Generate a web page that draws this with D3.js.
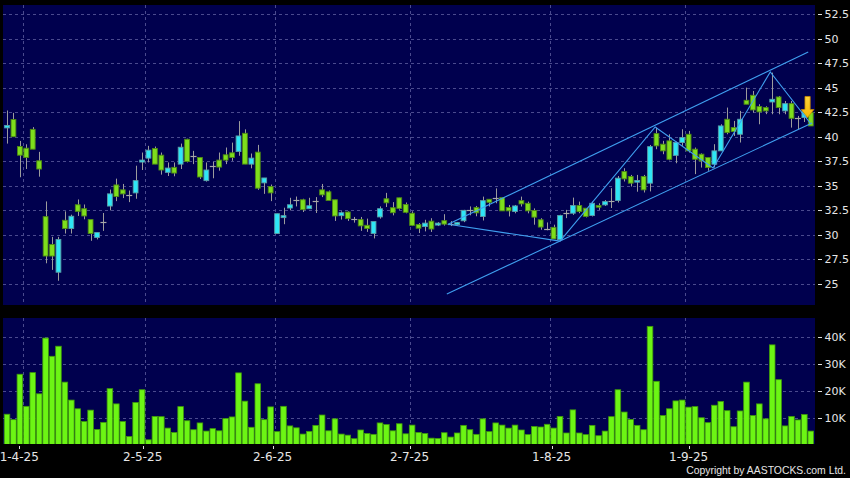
<!DOCTYPE html>
<html><head><meta charset="utf-8">
<script src="https://cdn.jsdelivr.net/npm/d3@7"></script>
<style>html,body{margin:0;padding:0;background:#000;}svg{display:block}</style>
</head><body><svg id="c" width="850" height="478"></svg>
<script>
// ---- data ----
const opens  = [40.9,41.76,39.0,38.83,40.75,37.55,31.86,29.03,26.2,31.49,30.65,33.07,32.67,31.56,29.74,31.32,32.94,35.09,34.59,34.02,34.28,37.42,37.82,38.8,38.12,36.37,36.88,37.21,39.74,38.06,37.89,35.53,36.98,37.62,38.16,38.36,38.49,40.35,37.21,38.43,35.3,34.92,30.14,31.76,32.74,33.51,33.58,32.67,33.44,34.59,34.39,33.58,31.96,32.33,31.63,31.56,30.98,30.14,31.83,33.68,32.77,33.78,33.1,32.21,31.05,30.85,31.4,31.0,31.45,31.15,31.05,31.44,32.55,32.8,31.88,33.63,33.8,33.8,32.79,32.38,33.49,33.22,32.48,31.54,30.6,30.77,29.52,32.28,32.21,32.99,32.72,31.98,33.0,33.06,33.48,33.51,36.45,35.95,35.37,35.95,35.27,40.32,39.24,39.58,38.1,39.41,40.25,38.73,38.22,37.88,37.2,38.56,41.78,40.93,40.25,43.71,44.22,43.07,42.97,43.54,44.05,42.63,43.37,41.88,41.95,42.46];
const highs  = [42.67,42.43,39.57,39.23,40.98,38.46,33.41,29.8,29.8,32.4,32.06,33.61,33.1,31.56,30.24,32.23,34.62,35.73,35.19,34.52,37.05,38.39,39.07,39.0,38.39,37.38,37.38,39.3,39.8,38.56,37.89,37.38,37.45,38.39,38.9,39.4,41.59,40.75,38.29,39.17,35.8,35.13,32.16,32.77,33.78,33.91,33.68,33.78,33.85,35.19,34.52,33.58,32.4,32.4,31.83,31.83,31.66,31.36,32.9,34.28,33.34,33.78,33.3,32.4,31.2,31.54,31.7,31.3,32.11,31.4,31.3,32.55,32.9,32.95,33.9,33.63,34.74,33.8,33.05,33.05,33.9,33.39,32.7,31.7,31.27,31.04,32.05,32.55,33.8,33.39,32.72,33.39,33.22,33.55,34.76,36.0,36.79,36.11,36.11,36.11,39.16,40.93,39.58,40.25,39.5,40.76,40.59,38.9,38.3,37.9,39.24,41.27,42.97,41.61,42.63,45.0,44.66,43.31,43.1,46.53,44.15,43.64,43.64,42.12,42.8,42.6];
const lows   = [39.3,40.0,35.87,36.71,38.73,35.93,27.11,26.44,25.33,30.14,30.14,31.93,31.59,29.4,29.54,30.41,32.5,33.44,33.75,33.34,33.68,36.61,37.38,37.21,36.14,36.0,35.97,36.71,37.38,37.21,35.7,35.43,35.77,36.54,37.21,37.55,38.06,37.21,36.78,34.59,34.18,33.44,30.14,31.09,32.5,32.9,32.33,32.67,32.23,33.85,33.51,31.42,31.56,31.42,31.25,30.41,30.31,29.64,31.66,32.84,31.99,32.57,32.2,30.9,30.19,30.36,30.3,30.9,30.95,30.9,30.95,31.3,32.0,31.9,31.47,32.89,33.22,32.45,31.88,32.2,32.89,32.2,31.04,30.53,30.47,29.59,29.35,31.71,32.04,32.21,31.78,31.88,32.55,32.95,32.74,33.3,35.44,34.93,34.4,34.32,34.43,38.73,38.22,37.6,37.3,39.07,38.39,36.19,36.86,36.53,36.86,38.56,40.25,40.08,39.41,43.31,42.46,41.27,42.3,42.29,42.29,42.29,40.93,40.76,41.5,41.1];
const closes = [41.15,40.0,38.12,37.89,38.73,36.71,27.85,27.85,29.54,30.65,31.9,32.4,31.93,30.14,30.24,31.32,34.18,33.91,34.18,34.02,35.53,37.62,38.63,37.21,36.61,36.81,36.3,38.93,37.48,38.06,35.9,36.61,36.98,36.91,37.62,37.89,40.08,37.21,37.82,34.76,35.8,34.28,32.16,31.96,33.07,33.51,32.57,32.97,33.44,34.08,33.51,31.93,32.26,31.66,31.63,30.92,30.65,31.36,32.67,33.27,32.26,32.7,32.3,30.97,30.68,31.2,30.6,31.2,31.1,31.15,31.25,32.5,32.55,32.25,33.49,33.32,33.8,32.45,32.45,32.95,33.16,32.45,31.81,30.8,30.6,29.59,31.98,32.28,32.99,32.38,31.88,33.22,32.82,33.39,33.48,35.78,35.71,35.27,35.54,34.59,38.99,39.07,38.56,37.7,39.41,39.92,38.56,37.71,37.54,36.86,38.56,41.1,40.42,40.53,41.78,43.31,42.73,42.53,42.63,43.81,42.97,43.37,41.88,41.88,42.63,41.1];
const volumesK = [11.5,9.5,26.2,14.4,26.8,19,39.5,32.8,36.5,23.3,16.7,13.5,8.8,13,5.9,8.5,20.9,15.3,8.8,3.3,15.8,20.5,2.1,10.7,10.6,6.4,4.8,14.3,9.1,5.8,8.3,5.3,6.2,5.4,
  9.9,10.5,26.7,16.3,6.7,22.7,9.5,14.2,5.1,14.4,7.2,6.5,4.2,5.2,7.4,11.2,5.4,9.8,4.2,3.8,2.5,5.7,4.4,4.1,8.3,7.7,5.4,8.0,4.3,7.5,4.8,4.4,2.7,
  2.6,4.7,3.1,4.6,7.4,5.8,4.1,9.8,5.1,8.3,7.5,6.4,7.5,5.7,4.0,7.0,6.8,7.8,6.4,10.7,4.6,13.1,4.6,4.0,7.4,3.6,5.3,10.6,20.5,12.3,9.6,7.4,
  5.8,43.8,23.6,11,13.5,16.4,16.7,14.1,14.3,10.2,8.4,14.8,16.2,12.8,6.9,12.7,23.3,11,15.3,9.8,37,24.2,7.2,10.7,9.4,11.4,5.3];
const priceTicks = [25,27.5,30,32.5,35,37.5,40,42.5,45,47.5,50,52.5];
const volTicks = [10,20,30,40];
const dateLabels = ["1-4-25","2-5-25","2-6-25","2-7-25","1-8-25","1-9-25"];
const dateLabelIdx = [1.9,21.1,41.3,62.6,84.7,106];
const dateGridIdx  = [2.5,21.5,41.6,62.6,84.4,105.5];
// trend lines as [index, price] pairs
const trendLines = [
  [[68.6,31.08],[124.6,48.63]],
  [[68.4,23.98],[125.2,41.4]],
  [[68.6,31.08],[86,29.37]],
  [[86,29.37],[100.8,40.99],[109.8,36.81],[118.7,46.6],[124.9,41.4]]
];
const arrowSpec = {idx:124.5, top:44.1, tip:41.95};

// ---- drawing ----
const svg = d3.select("#c");
const N = closes.length;
const x = d3.scaleLinear().domain([-0.5, N-0.5]).range([3.8, 814]);
const y = d3.scaleLinear().domain([25,52.5]).range([284,14]);
const yv = d3.scaleLinear().domain([0,40]).range([445.5,336.7]);
const P = {x:3, y:5, w:812, h:300};
const V = {x:3, y:318, w:812, h:126};

svg.append("rect").attr("width",850).attr("height",478).attr("fill","#000");
const defs = svg.append("defs");
defs.append("clipPath").attr("id","cp").append("rect").attr("x",P.x).attr("y",P.y).attr("width",P.w).attr("height",P.h);
defs.append("clipPath").attr("id","cv").append("rect").attr("x",V.x).attr("y",V.y).attr("width",V.w).attr("height",V.h);
const grad = defs.append("linearGradient").attr("id","ag").attr("x1",0).attr("y1",0).attr("x2",0).attr("y2",1);
grad.append("stop").attr("offset","0%").attr("stop-color","#ffd23a");
grad.append("stop").attr("offset","100%").attr("stop-color","#f5b800");

const NAVY = "#00004e", GRID = "#4a4a8e";
svg.append("rect").attr("x",P.x).attr("y",P.y).attr("width",P.w).attr("height",P.h).attr("fill",NAVY);
svg.append("rect").attr("x",V.x).attr("y",V.y).attr("width",V.w).attr("height",V.h).attr("fill",NAVY);

const crisp = v => Math.round(v)+0.5;
// price grid
const gp = svg.append("g").attr("clip-path","url(#cp)");
gp.selectAll("line.h").data(priceTicks).join("line")
  .attr("x1",P.x).attr("x2",P.x+P.w).attr("y1",d=>crisp(y(d))).attr("y2",d=>crisp(y(d)))
  .attr("stroke",GRID).attr("stroke-dasharray","3,3");
gp.selectAll("line.v").data(dateGridIdx).join("line")
  .attr("y1",P.y).attr("y2",P.y+P.h).attr("x1",d=>crisp(x(d))).attr("x2",d=>crisp(x(d)))
  .attr("stroke",GRID).attr("stroke-dasharray","3,3");
// volume grid
const gv = svg.append("g").attr("clip-path","url(#cv)");
gv.selectAll("line.h").data(volTicks).join("line")
  .attr("x1",V.x).attr("x2",V.x+V.w).attr("y1",d=>crisp(yv(d))).attr("y2",d=>crisp(yv(d)))
  .attr("stroke",GRID).attr("stroke-dasharray","3,3");
gv.selectAll("line.v").data(dateGridIdx).join("line")
  .attr("y1",V.y).attr("y2",V.y+V.h).attr("x1",d=>crisp(x(d))).attr("x2",d=>crisp(x(d)))
  .attr("stroke",GRID).attr("stroke-dasharray","3,3");

// candles
const candles = d3.range(N).map(i=>({i,o:opens[i],h:highs[i],l:lows[i],c:closes[i]}));
const cg = svg.append("g").attr("clip-path","url(#cp)");
const bw = 4.8;
cg.selectAll("line.w").data(candles).join("line")
  .attr("x1",d=>crisp(x(d.i))).attr("x2",d=>crisp(x(d.i)))
  .attr("y1",d=>y(d.h)).attr("y2",d=>y(d.l))
  .attr("stroke","#9c9c9c").attr("stroke-width",1);
cg.selectAll("rect.b").data(candles.filter(d=>d.o!==d.c)).join("rect")
  .attr("x",d=>x(d.i)-bw/2).attr("width",bw)
  .attr("y",d=>y(Math.max(d.o,d.c))).attr("height",d=>Math.max(1,y(Math.min(d.o,d.c))-y(Math.max(d.o,d.c))))
  .attr("fill",d=>d.c>d.o?"#2ee6f6":"#7ede1c")
  .attr("stroke",d=>d.c>d.o?"#5a9ea6":"#4e8a14").attr("stroke-width",0.9);
cg.selectAll("line.d").data(candles.filter(d=>d.o===d.c)).join("line")
  .attr("x1",d=>x(d.i)-3).attr("x2",d=>x(d.i)+3)
  .attr("y1",d=>crisp(y(d.o))).attr("y2",d=>crisp(y(d.o)))
  .attr("stroke","#a8a8a8").attr("stroke-width",1.2);

// trend lines
const lg = d3.line().x(d=>x(d[0])).y(d=>y(d[1]));
cg.selectAll("path.t").data(trendLines).join("path")
  .attr("d",lg).attr("fill","none").attr("stroke","#3f9ff0").attr("stroke-width",1.1);

// arrow
(function(){
  const cx = x(arrowSpec.idx), yt = y(arrowSpec.top), yb = y(arrowSpec.tip);
  const sh = 2.6, hw = 6.3, hh = 8;
  const pts = [[cx-sh,yt],[cx+sh,yt],[cx+sh,yb-hh],[cx+hw,yb-hh],[cx,yb],[cx-hw,yb-hh],[cx-sh,yb-hh]];
  svg.append("path").attr("d","M"+pts.map(p=>p.join(",")).join("L")+"Z")
    .attr("fill","url(#ag)").attr("stroke","#c98a00").attr("stroke-width",0.8);
})();

// volume bars
const vbw = 5.6;
svg.append("g").attr("clip-path","url(#cv)").selectAll("rect").data(volumesK).join("rect")
  .attr("x",(d,i)=>x(i)-vbw/2).attr("width",vbw)
  .attr("y",d=>yv(d)).attr("height",d=>yv(0)-yv(d))
  .attr("fill","#6cf514").attr("stroke","#3f9a0a").attr("stroke-width",0.8);

// right axes
const font = "DejaVu Sans, Verdana, sans-serif";
const ax = svg.append("g").attr("font-family",font).attr("font-size",11).attr("fill","#e6e6e6");
ax.selectAll("line.pt").data(priceTicks).join("line")
  .attr("x1",818).attr("x2",822).attr("y1",d=>crisp(y(d))).attr("y2",d=>crisp(y(d))).attr("stroke","#dddddd");
ax.selectAll("text.pt").data(priceTicks).join("text")
  .attr("x",824.5).attr("y",d=>y(d)).attr("dy","0.36em").text(d=>d%1? d.toFixed(1) : String(d));
ax.selectAll("line.vt").data(volTicks).join("line")
  .attr("x1",818).attr("x2",822).attr("y1",d=>crisp(yv(d))).attr("y2",d=>crisp(yv(d))).attr("stroke","#dddddd");
ax.selectAll("text.vt").data(volTicks).join("text")
  .attr("x",824.5).attr("y",d=>yv(d)).attr("dy","0.36em").text(d=>d+"K");
// date axis
ax.selectAll("line.dt").data(dateLabelIdx).join("line")
  .attr("x1",d=>crisp(x(d))).attr("x2",d=>crisp(x(d))).attr("y1",446).attr("y2",449).attr("stroke","#dddddd");
ax.selectAll("text.dt").data(dateLabels).join("text")
  .attr("x",(d,i)=>x(dateLabelIdx[i])).attr("y",461).attr("font-size",12).attr("text-anchor","middle").text(d=>d);
svg.append("text").attr("x",846).attr("y",473.5).attr("text-anchor","end")
  .attr("font-family","Liberation Sans, Arial, sans-serif").attr("font-size",10.4).attr("fill","#e6e6e6")
  .text("Copyright by AASTOCKS.com Ltd.");
</script></body></html>
